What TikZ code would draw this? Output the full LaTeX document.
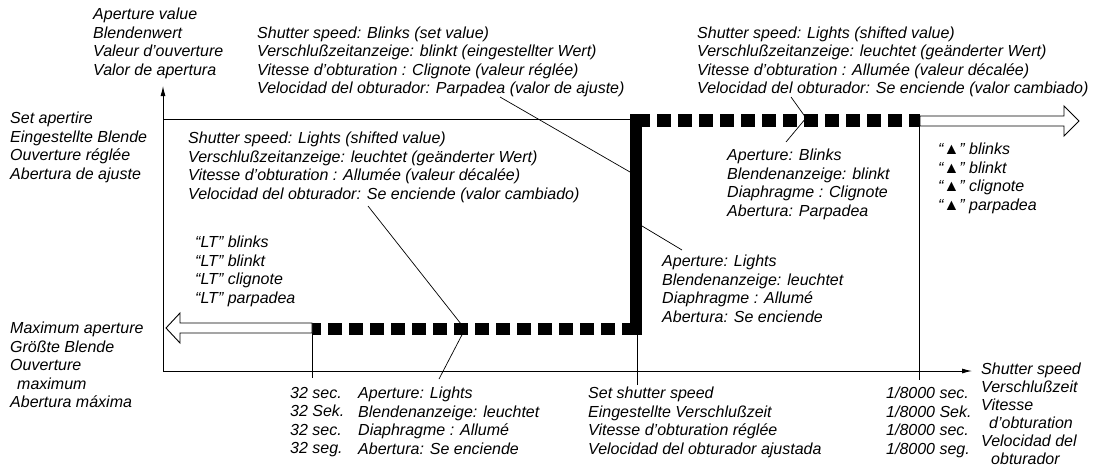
\documentclass[tikz,border=0pt]{standalone}
\usepackage{fontspec}
\setmainfont{Liberation Sans}
\usetikzlibrary{arrows.meta}

\begin{document}
\begin{tikzpicture}[x=1pt,y=-1pt,
  txt/.style={anchor=north west,inner sep=0pt,align=left,
    font=\fontsize{16}{18.5}\selectfont\itshape},
  axis/.style={line width=0.9pt,-{Latex[length=10pt,width=5pt]}},
  leader/.style={line width=0.7pt},
  fatdash/.style={line width=12.5pt,dash pattern=on 14pt off 7pt},
  hollow/.style={draw,line width=0.9pt,fill=white,line join=miter}]

\useasboundingbox (0,0) rectangle (1104,469);

% axes
\coordinate (O)    at (163,371);
\coordinate (Ytip) at (163,86);
\coordinate (Xtip) at (972,371);
\draw[axis] (O) -- (Ytip);
\draw[axis] (O) -- (Xtip);

% set aperture line and the shifted program line
\coordinate (setL) at (163,119);
\coordinate (setR) at (630,119);
\draw[line width=0.9pt] (setL) -- (setR);

\coordinate (cTop) at (636,114);
\coordinate (cBot) at (636,335);
\draw[line width=12pt] (cTop) -- (cBot);
\draw[fatdash] (636,120.5) -- (920,120.5);
\draw[fatdash] (636,329) -- (312,329);

% hollow arrows
\draw[hollow] (920,116) -- (1064,116) -- (1064,106) -- (1079,121)
  -- (1064,136) -- (1064,126) -- (920,126) -- cycle;
\draw[hollow] (312,323) -- (180,323) -- (180,313) -- (166,328)
  -- (180,343) -- (180,333) -- (312,333) -- cycle;

% ticks
\draw[line width=0.8pt] (312,333) -- (312,378);
\draw[line width=0.8pt] (637,335) -- (637,385);
\draw[line width=0.8pt] (919,126) -- (919,380);

% leaders
\coordinate (l1a) at (500,97);  \coordinate (l1b) at (630,172);
\coordinate (l2a) at (791,97);  \coordinate (l2m) at (806,118);
\coordinate (l2b) at (786,142);
\coordinate (l3a) at (368,206); \coordinate (l3m) at (465,329);
\coordinate (l3b) at (439,379);
\coordinate (l4a) at (642,226); \coordinate (l4b) at (682,250);
\draw[leader] (l1a) -- (l1b);
\draw[leader] (l2a) -- (l2m) -- (l2b);
\draw[leader] (l3a) -- (l3m) -- (l3b);
\draw[leader] (l4a) -- (l4b);

% labels
\node[txt] (aval) at (93,8) {Aperture value\\Blendenwert\\Valeur d'ouverture\\Valor de apertura};
\node[txt] (setap) at (10,112) {Set apertire\\Eingestellte Blende\\Ouverture réglée\\Abertura de ajuste};
\node[txt] (ssblink) at (257,26.5) {Shutter speed: Blinks (set value)\\Verschlußzeitanzeige: blinkt (eingestellter Wert)\\Vitesse d'obturation : Clignote (valeur réglée)\\Velocidad del obturador: Parpadea (valor de ajuste)};
\node[txt] (sslight) at (697,26.5) {Shutter speed: Lights (shifted value)\\Verschlußzeitanzeige: leuchtet (geänderter Wert)\\Vitesse d'obturation : Allumée (valeur décalée)\\Velocidad del obturador: Se enciende (valor cambiado)};
\node[txt] (sslightb) at (188,132) {Shutter speed: Lights (shifted value)\\Verschlußzeitanzeige: leuchtet (geänderter Wert)\\Vitesse d'obturation : Allumée (valeur décalée)\\Velocidad del obturador: Se enciende (valor cambiado)};
\node[txt] (lt) at (195,236) {“LT” blinks\\“LT” blinkt\\“LT” clignote\\“LT” parpadea};
\node[txt] (apblink) at (727,149) {Aperture: Blinks\\Blendenanzeige: blinkt\\Diaphragme : Clignote\\Abertura: Parpadea};
\node[txt] (tri) at (938,143) {“▲” blinks\\“▲” blinkt\\“▲” clignote\\“▲” parpadea};
\node[txt] (aplight) at (662,255) {Aperture: Lights\\Blendenanzeige: leuchtet\\Diaphragme : Allumé\\Abertura: Se enciende};
\node[txt] (maxap) at (10,322) {Maximum aperture\\Größte Blende\\Ouverture\\\hspace*{7pt}maximum\\Abertura máxima};
\node[txt] (slow) at (290,387) {32 sec.\\32 Sek.\\32 sec.\\32 seg.};
\node[txt] (aplightb) at (358,387) {Aperture: Lights\\Blendenanzeige: leuchtet\\Diaphragme : Allumé\\Abertura: Se enciende};
\node[txt] (setss) at (588,387) {Set shutter speed\\Eingestellte Verschlußzeit\\Vitesse d'obturation réglée\\Velocidad del obturador ajustada};
\node[txt] (fast) at (886,387) {1/8000 sec.\\1/8000 Sek.\\1/8000 sec.\\1/8000 seg.};
\node[txt,font=\fontsize{16}{18}\selectfont\itshape] (ssaxis) at (981,363) {Shutter speed\\Verschlußzeit\\Vitesse\\\hspace*{8pt}d'obturation\\Velocidad del\\\hspace*{10pt}obturador};

\end{tikzpicture}
\end{document}
